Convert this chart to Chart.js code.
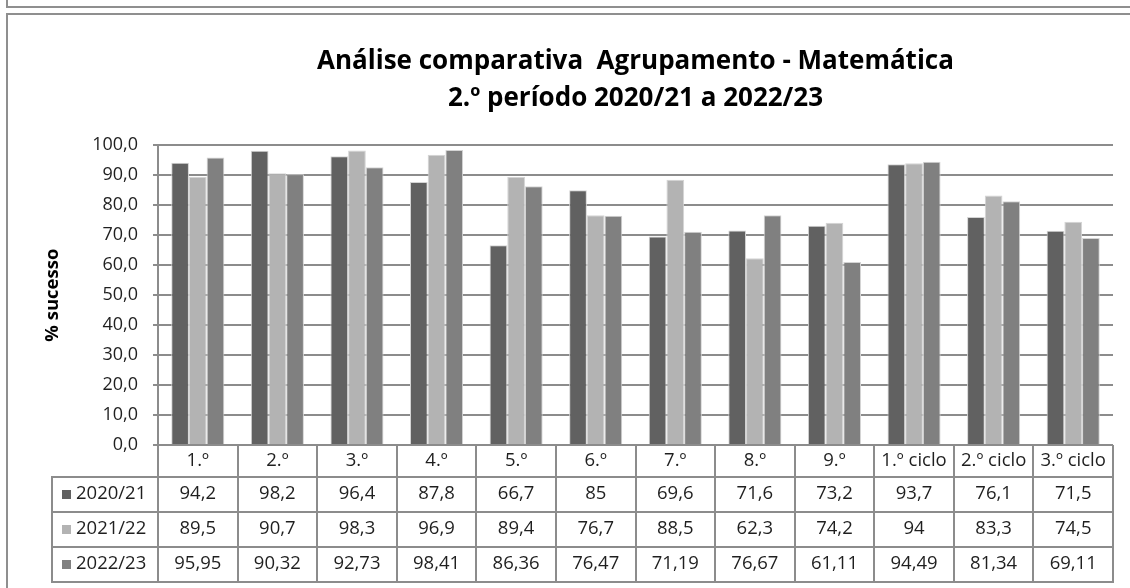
<!DOCTYPE html>
<html lang="pt">
<head>
<meta charset="utf-8">
<title>Análise comparativa Agrupamento - Matemática</title>
<script src="https://cdn.jsdelivr.net/npm/chart.js@4/dist/chart.umd.min.js"></script>
<style>
  body { margin: 0; background: #fff; }
  #wrap { position: relative; width: 1130px; height: 588px; overflow: hidden; }
  #topBox { position: absolute; left: 6px; top: -10px; width: 1200px; height: 16px;
            border-left: 2px solid #8f8f8f; border-bottom: 2px solid #8f8f8f; }
  #chartBox { position: absolute; left: 6px; top: 13px; width: 1200px; height: 700px;
              border-left: 2px solid #8f8f8f; border-top: 2px solid #8f8f8f; }
  #chart { position: absolute; left: 0; top: 0; }
</style>
</head>
<body>
<div id="wrap">
  <div id="topBox"></div>
  <div id="chartBox"></div>
  <canvas id="chart" width="1130" height="588"></canvas>
</div>
<script>
const categories = ["1.º", "2.º", "3.º", "4.º", "5.º", "6.º", "7.º", "8.º", "9.º",
  "1.º ciclo", "2.º ciclo", "3.º ciclo"];
const seriesNames = ["2020/21", "2021/22", "2022/23"];
const values2021 = [94.2, 98.2, 96.4, 87.8, 66.7, 85, 69.6, 71.6, 73.2, 93.7, 76.1, 71.5];
const values2122 = [89.5, 90.7, 98.3, 96.9, 89.4, 76.7, 88.5, 62.3, 74.2, 94, 83.3, 74.5];
const values2223 = [95.95, 90.32, 92.73, 98.41, 86.36, 76.47, 71.19, 76.67, 61.11, 94.49, 81.34, 69.11];
const seriesColors = ["#616161", "#b3b3b3", "#808080"];

const FONT = "'Open Sans', Lato, sans-serif";
const LINE = "#8c8c8c";
const TEXT = "#1f1f1f";

const fmt = (v) => String(v).replace(".", ",");

// data table under the plot, columns follow the x scale
const dataTable = {
  id: "dataTable",
  afterDraw(chart) {
    const ctx = chart.ctx;
    const area = chart.chartArea;
    const x = chart.scales.x;
    const colW = (area.right - area.left) / categories.length;
    const keyLeft = 52;
    const headTop = area.bottom;
    const rowTops = [headTop + 32, headTop + 67, headTop + 102];
    const tableBottom = headTop + 137;

    ctx.save();
    ctx.strokeStyle = LINE;
    ctx.lineWidth = 2;
    ctx.beginPath();
    ctx.moveTo(area.left, headTop);
    ctx.lineTo(area.right, headTop);
    rowTops.concat([tableBottom]).forEach((y) => {
      ctx.moveTo(keyLeft, y);
      ctx.lineTo(area.right, y);
    });
    for (let i = 0; i <= categories.length; i++) {
      const lx = Math.round(area.left + i * colW);
      ctx.moveTo(lx, headTop);
      ctx.lineTo(lx, tableBottom + 1);
    }
    ctx.moveTo(keyLeft, rowTops[0] - 1);
    ctx.lineTo(keyLeft, tableBottom + 1);
    ctx.stroke();

    ctx.fillStyle = TEXT;
    ctx.font = "18.5px " + FONT;
    ctx.textAlign = "center";
    ctx.textBaseline = "middle";
    categories.forEach((c, i) => {
      ctx.fillText(c, x.getPixelForValue(i), headTop + 16);
    });

    chart.data.datasets.forEach((ds, r) => {
      const cy = rowTops[r] + 17;
      ctx.fillStyle = ds.backgroundColor;
      ctx.fillRect(62, cy - 4, 9, 9);
      ctx.fillStyle = TEXT;
      ctx.textAlign = "left";
      ctx.fillText(ds.label, 76, cy);
      ctx.textAlign = "center";
      ds.data.forEach((v, i) => {
        ctx.fillText(fmt(v), x.getPixelForValue(i), cy);
      });
    });
    ctx.restore();
  },
};

new Chart(document.getElementById("chart"), {
  type: "bar",
  data: {
    labels: categories,
    datasets: [
      { label: seriesNames[0], data: values2021, backgroundColor: seriesColors[0] },
      { label: seriesNames[1], data: values2122, backgroundColor: seriesColors[1] },
      { label: seriesNames[2], data: values2223, backgroundColor: seriesColors[2] },
    ],
  },
  options: {
    responsive: false,
    animation: false,
    layout: { padding: { left: 0, top: 0, right: 17, bottom: 143 } },
    datasets: {
      bar: {
        barPercentage: 1,
        categoryPercentage: 0.667,
        borderWidth: 1,
        borderColor: "#d4d4d4",
      },
    },
    plugins: {
      legend: { display: false },
      tooltip: { enabled: false },
      title: {
        display: true,
        fullSize: false,
        text: ["Análise comparativa  Agrupamento - Matemática", "2.º período 2020/21 a 2022/23"],
        color: "#000",
        font: { family: FONT, size: 26, weight: "bold", lineHeight: 1.43 },
        padding: { top: 43, bottom: 28 },
      },
    },
    scales: {
      x: { display: false },
      y: {
        min: 0,
        max: 100,
        afterFit(scale) { scale.width = 158; },
        ticks: {
          stepSize: 10,
          color: TEXT,
          padding: 15,
          font: { family: FONT, size: 18 },
          callback: (v) => v.toFixed(1).replace(".", ","),
        },
        grid: { color: LINE, lineWidth: 2, tickLength: 5 },
        border: { color: LINE, width: 2 },
        title: {
          display: true,
          text: "% sucesso",
          color: "#000",
          font: { family: FONT, size: 18.5, weight: "bold" },
          padding: { top: 42, bottom: 0 },
        },
      },
    },
  },
  plugins: [dataTable],
});
</script>
</body>
</html>
